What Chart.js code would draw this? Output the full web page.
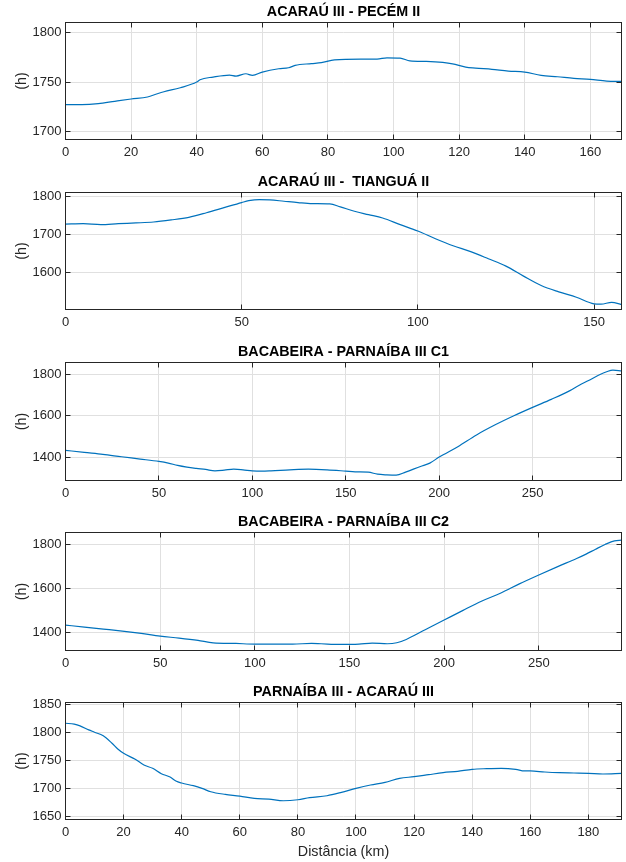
<!DOCTYPE html>
<html><head><meta charset="utf-8">
<script src="https://cdn.jsdelivr.net/npm/chart.js@4.4.1/dist/chart.umd.min.js"></script>
<style>
html,body{margin:0;padding:0;background:#fff;width:626px;height:862px;overflow:hidden}
canvas{position:absolute;left:0}
</style></head><body>
<canvas id="c1" width="626" height="165" style="top:0px"></canvas>
<canvas id="c2" width="626" height="165" style="top:170px"></canvas>
<canvas id="c3" width="626" height="166" style="top:340px"></canvas>
<canvas id="c4" width="626" height="166" style="top:510px"></canvas>
<canvas id="c5" width="626" height="182" style="top:680px"></canvas>
<script>
// ---------- data ----------
const title1 = 'ACARAÚ III - PECÉM II';
const km1 = [0,5,10,15,20,25,28,30,35,40,41,45,50,52,55,57,60,65,68,70,75,78,82,90,95,98,102,105,110,115,118,122,125,130,135,140,145,150,155,160,165,169.5];
const h1  = [1727.3,1727.3,1728.3,1730.7,1733,1735,1738.3,1740.3,1744.3,1750,1752.3,1755,1757,1756,1758.3,1756.7,1760,1763.3,1764.3,1766.7,1768.5,1769.5,1772.3,1773,1773,1774.3,1774,1771.3,1770.7,1769.7,1768.3,1765,1764,1762.7,1761,1760,1756.7,1755.3,1753.7,1752.7,1751,1750.7];
const xTicks1 = [0,20,40,60,80,100,120,140,160];
const yTicks1 = [1700,1750,1800];
const xRange1 = [0,169.5];
const yRange1 = [1692.4,1809.7];

const title2 = 'ACARAÚ III -  TIANGUÁ II';
const km2 = [0,5,10,15,20,25,30,35,40,45,50,52,55,58,62,66,70,75,78,82,86,90,95,100,105,110,115,120,125,130,135,140,145,150,152,155,157.8];
const h2  = [1728,1729,1726.5,1729,1731,1733.5,1739,1746,1758,1771.5,1785,1790,1793,1792,1788.5,1785,1782.3,1781.4,1773.5,1762,1753,1744,1726.5,1709.7,1689.4,1670.8,1655,1636.3,1616.8,1590.3,1565.5,1548.7,1534.5,1517,1516,1521,1515];
const xTicks2 = [0,50,100,150];
const yTicks2 = [1600,1700,1800];
const xRange2 = [0,157.8];
const yRange2 = [1502,1811.6];

const title3 = 'BACABEIRA - PARNAÍBA III C1';
const km3 = [0,10,20,30,40,50,55,60,65,70,75,80,85,90,95,100,105,110,120,130,140,150,155,162,167,172,177,182,190,195,200,210,220,230,240,250,260,270,275,280,285,290,293,297.6];
const h3  = [1434,1424,1414.5,1403,1392,1380.6,1372.6,1361.3,1353,1347,1342,1335.5,1338.7,1343.5,1340.3,1335.5,1334,1335.5,1340.3,1343.5,1340.3,1334,1330.6,1329,1319.4,1316,1314.5,1329,1356.5,1372.6,1401.6,1451.6,1508,1556.5,1600,1640.3,1679,1721,1746.8,1769.4,1793.5,1812.9,1819.4,1816];
const xTicks3 = [0,50,100,150,200,250];
const yTicks3 = [1400,1600,1800];
const xRange3 = [0,297.6];
const yRange3 = [1289,1856];

const title4 = 'BACABEIRA - PARNAÍBA III C2';
const km4 = [0,10,20,30,40,50,60,70,78,90,100,110,120,130,135,145,155,162,170,175,180,190,200,210,220,230,240,250,260,270,275,280,285,290,293.7];
const h4  = [1433.3,1424.2,1415.2,1406.1,1395.5,1383.3,1374.2,1363.6,1353,1350,1347,1347,1347,1350,1348.5,1345.5,1347,1351.5,1348.5,1353,1368.2,1412.1,1456,1500,1542.4,1578.8,1621.2,1660.6,1698.5,1735,1755,1777.3,1798.5,1815.2,1818.2];
const xTicks4 = [0,50,100,150,200,250];
const yTicks4 = [1400,1600,1800];
const xRange4 = [0,293.7];
const yRange4 = [1318,1853];

const title5 = 'PARNAÍBA III - ACARAÚ III';
const km5 = [0,3,5,8,10,13,16,18,20,24,27,30,33,36,38,40,44,47,50,55,60,65,70,75,80,84,90,95,100,105,110,115,120,125,130,135,140,145,150,155,158,160,165,170,175,180,185,191.4];
const h5  = [1816,1814.3,1811.3,1804.2,1800,1793.5,1780.4,1770.2,1762.5,1751.8,1741.7,1735.7,1726.2,1720.2,1713.1,1709.5,1704.8,1700,1694,1689.3,1686.3,1682.1,1680.9,1678,1679.8,1683.5,1686.9,1692.9,1700,1706,1710.7,1717.9,1720.8,1724.4,1728,1730.4,1733.9,1735.1,1735.7,1733.9,1731,1731,1729.2,1728,1727.4,1726.8,1725.6,1726.8];
const xTicks5 = [0,20,40,60,80,100,120,140,160,180];
const yTicks5 = [1650,1700,1750,1800,1850];
const xRange5 = [0,191.4];
const yRange5 = [1644.6,1852.9];

const yLabel = '(h)';
const xLabel = 'Distância (km)';

// ---------- style ----------
const AXIS = '#262626';
const GRID = '#e0e0e0';
const LINE = '#0072BD';
const FONT = '"Liberation Sans", Arial, Helvetica, sans-serif';

const frameTicks = {
  id: 'frameTicks',
  afterDraw(chart) {
    const {ctx, chartArea: a, scales} = chart;
    const tl = 5;
    ctx.save();
    ctx.strokeStyle = AXIS;
    ctx.lineWidth = 1;
    ctx.beginPath();
    scales.x.ticks.forEach(t => {
      const p = Math.round(scales.x.getPixelForValue(t.value) - 0.5) + 0.5;
      ctx.moveTo(p, a.bottom); ctx.lineTo(p, a.bottom - tl);
      ctx.moveTo(p, a.top); ctx.lineTo(p, a.top + tl);
    });
    scales.y.ticks.forEach(t => {
      const p = Math.round(scales.y.getPixelForValue(t.value) - 0.5) + 0.5;
      ctx.moveTo(a.left, p); ctx.lineTo(a.left + tl, p);
      ctx.moveTo(a.right, p); ctx.lineTo(a.right - tl, p);
    });
    ctx.stroke();
    ctx.strokeRect(a.left, a.top, a.right - a.left, a.bottom - a.top);
    ctx.restore();
  }
};

function makeChart(id, title, km, h, xTicks, yTicks, xRange, yRange, xAxisH, showX) {
  const tickFont = {family: FONT, size: 13};
  const labelFont = {family: FONT, size: 14.3, lineHeight: 1.2};
  new Chart(document.getElementById(id), {
    type: 'line',
    data: {
      datasets: [{
        data: km.map((x, i) => ({x: x, y: h[i]})),
        borderColor: LINE,
        borderWidth: 1.2,
        pointRadius: 0,
        fill: false,
        cubicInterpolationMode: 'monotone'
      }]
    },
    options: {
      responsive: false,
      animation: false,
      events: [],
      layout: {padding: {left: 0, right: 4.5, top: 0, bottom: 0}},
      plugins: {
        legend: {display: false},
        tooltip: {enabled: false},
        title: {
          display: true,
          text: title,
          fullSize: false,
          color: '#000',
          font: {family: FONT, size: 14.3, weight: 'bold', lineHeight: 1.2},
          padding: {top: 3.2, bottom: 2.14}
        }
      },
      scales: {
        x: {
          type: 'linear',
          min: xRange[0], max: xRange[1],
          afterBuildTicks: s => { s.ticks = xTicks.map(v => ({value: v})); },
          afterFit: s => { s.height = xAxisH; },
          grid: {color: GRID, lineWidth: 1, drawTicks: false},
          border: {display: false},
          ticks: {color: AXIS, font: tickFont, padding: 5, maxRotation: 0, autoSkip: false, callback: v => String(v)},
          title: {display: showX, text: xLabel, color: AXIS, font: labelFont, padding: {top: 4, bottom: 1.7}}
        },
        y: {
          type: 'linear',
          min: yRange[0], max: yRange[1],
          afterBuildTicks: s => { s.ticks = yTicks.map(v => ({value: v})); },
          afterFit: s => { s.width = 65.5; },
          grid: {color: GRID, lineWidth: 1, drawTicks: false},
          border: {display: false},
          ticks: {color: AXIS, font: tickFont, padding: 4, autoSkip: false, callback: v => String(v)},
          title: {display: true, text: yLabel, color: AXIS, font: labelFont, padding: {top: 13.1, bottom: 0}}
        }
      }
    },
    plugins: [frameTicks]
  });
}

makeChart('c1', title1, km1, h1, xTicks1, yTicks1, xRange1, yRange1, 25.5, false);
makeChart('c2', title2, km2, h2, xTicks2, yTicks2, xRange2, yRange2, 25.5, false);
makeChart('c3', title3, km3, h3, xTicks3, yTicks3, xRange3, yRange3, 25.5, false);
makeChart('c4', title4, km4, h4, xTicks4, yTicks4, xRange4, yRange4, 25.5, false);
makeChart('c5', title5, km5, h5, xTicks5, yTicks5, xRange5, yRange5, 42.5, true);
</script>
</body></html>
